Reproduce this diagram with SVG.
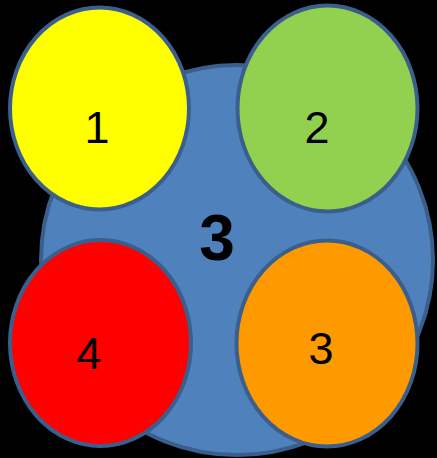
<svg xmlns="http://www.w3.org/2000/svg" width="437" height="458" viewBox="0 0 437 458">
<style>
.n{stroke:#3b5f8c;stroke-width:4}
.t{font-family:"Liberation Sans",Arial,sans-serif;font-size:45px;fill:#000;text-anchor:middle}
.b{font-family:"Liberation Sans",Arial,sans-serif;font-size:64px;font-weight:bold;fill:#000;text-anchor:middle}
</style>
<rect width="437" height="458" fill="#000"/>
<g id="big">
<ellipse class="n" cx="237" cy="260" rx="196" ry="195" fill="#4f81bd"/>
<text class="b" x="217" y="260">3</text>
</g>
<g id="n1">
<ellipse class="n" cx="99.5" cy="108.5" rx="89.5" ry="101" fill="#ffff00"/>
<text class="t" x="97" y="143">1</text>
</g>
<g id="n2">
<ellipse class="n" cx="327.5" cy="108.5" rx="90" ry="103" fill="#92d050"/>
<text class="t" x="317" y="143">2</text>
</g>
<g id="n4">
<ellipse class="n" cx="100.5" cy="343" rx="90.5" ry="103" fill="#ff0000"/>
<text class="t" x="89" y="369">4</text>
</g>
<g id="n3">
<ellipse class="n" cx="327" cy="343.5" rx="90.5" ry="103" fill="#ff9900"/>
<text class="t" x="321" y="364">3</text>
</g>
<g id="connectors"/>
</svg>
